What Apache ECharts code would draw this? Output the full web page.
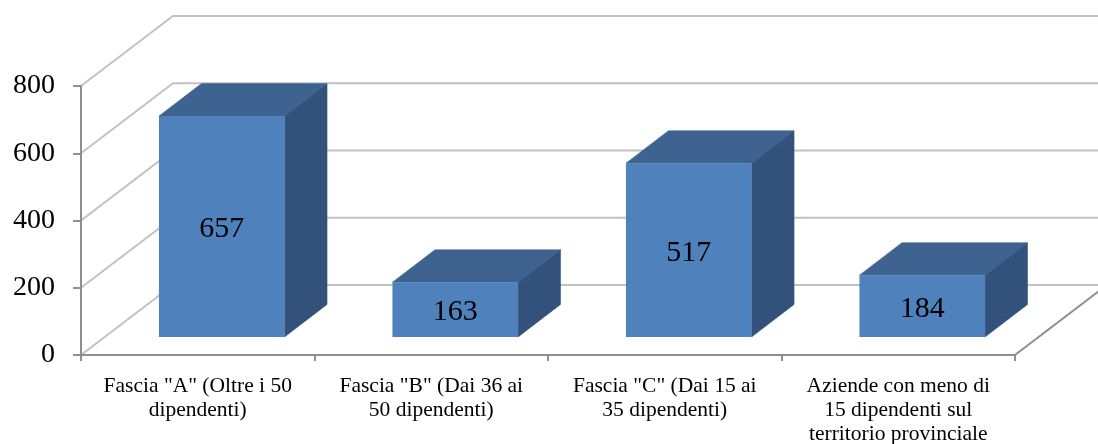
<!DOCTYPE html>
<html>
<head>
<meta charset="utf-8">
<style>html,body{margin:0;padding:0;background:#fff}#c{width:1098px;height:444px}</style>
<script src="https://cdn.jsdelivr.net/npm/echarts@6/dist/echarts.min.js"></script>
</head>
<body>
<div id="c"></div>
<script>
const categories = [
  'Fascia "A" (Oltre i 50\ndipendenti)',
  'Fascia "B" (Dai 36 ai\n50 dipendenti)',
  'Fascia "C" (Dai 15 ai\n35 dipendenti)',
  'Aziende con meno di\n15 dipendenti sul\nterritorio provinciale'
];
const values = [657, 163, 517, 184];
const gridTicks = [0, 200, 400, 600, 800];

const FONT = '"Liberation Serif", serif';
const WALL = [92, -70];       // depth of the chart box
const NEAR = [24, -18];       // front face of the bars inside the box
const FAR = [66.5, -50.5];    // back face of the bars inside the box
const C_GRID = '#c2c2c2', C_AXIS = '#8f8f8f';

function wallItem(params, api) {
  const cs = params.coordSys;
  const y = api.coord([0, api.value(0)])[1];
  const x0 = cs.x, x1 = cs.x + cs.width;
  const isZero = api.value(0) === 0;
  const children = [{
    type: 'polyline',
    shape: { points: [[x0, y], [x0 + WALL[0], y + WALL[1]], [x1 + WALL[0], y + WALL[1]]] },
    style: { stroke: C_GRID, lineWidth: 2, fill: null }
  }];
  if (isZero) {
    children.push({
      type: 'line',
      shape: { x1: x1, y1: y, x2: x1 + WALL[0], y2: y + WALL[1] },
      style: { stroke: C_AXIS, lineWidth: 2 }
    });
  }
  return { type: 'group', children };
}

function barItem(params, api) {
  const idx = api.value(0), val = api.value(1);
  const base = api.coord([idx, 0]), top = api.coord([idx, val]);
  const w = api.size([1, 0])[0] * 0.538;
  const l = base[0] - w / 2 + NEAR[0], r = l + w;
  const yb = base[1] + NEAR[1], yt = top[1] + NEAR[1];
  const dx = FAR[0] - NEAR[0], dy = FAR[1] - NEAR[1];
  return {
    type: 'group',
    children: [
      { type: 'polygon', shape: { points: [[l, yt], [r, yt], [r + dx, yt + dy], [l + dx, yt + dy]] },
        style: { fill: '#3e6391', stroke: '#3e6391', lineWidth: 0.5 } },
      { type: 'polygon', shape: { points: [[r, yb], [r, yt], [r + dx, yt + dy], [r + dx, yb + dy]] },
        style: { fill: '#32527b', stroke: '#32527b', lineWidth: 0.5 } },
      { type: 'rect', shape: { x: l, y: yt, width: w, height: yb - yt },
        style: { fill: '#4f81bd' } },
      { type: 'text', style: { text: String(val), x: (l + r) / 2, y: (yt + yb) / 2 + 3,
          align: 'center', verticalAlign: 'middle', font: '30px ' + FONT, fill: '#000' } }
    ]
  };
}

const chart = echarts.init(document.getElementById('c'), null, { renderer: 'canvas' });
chart.setOption({
  animation: false,
  backgroundColor: '#fff',
  grid: { left: 81, right: 83, top: 86, bottom: 89, outerBoundsMode: 'none' },
  xAxis: {
    type: 'category', data: categories, boundaryGap: true,
    axisLine: { show: true, lineStyle: { color: C_AXIS, width: 2 } },
    axisTick: { show: true, alignWithLabel: false, length: 6, lineStyle: { color: C_AXIS, width: 2 } },
    axisLabel: { interval: 0, fontFamily: FONT, fontSize: 21.5, color: '#000', lineHeight: 24, margin: 19 },
    z: 5
  },
  yAxis: {
    type: 'value', min: 0, max: 800, interval: 200,
    axisLine: { show: true, lineStyle: { color: C_AXIS, width: 2 } },
    axisTick: { show: true, length: 8, lineStyle: { color: C_AXIS, width: 2 } },
    axisLabel: { fontFamily: FONT, fontSize: 28, color: '#000', margin: 26, padding: [4, 0, 0, 0] },
    splitLine: { show: false },
    z: 5
  },
  series: [
    { type: 'custom', name: 'walls', coordinateSystem: 'cartesian2d', clip: false, silent: true, z: 1,
      encode: { y: 0 }, renderItem: wallItem, data: gridTicks.map(v => [v]) },
    { type: 'custom', name: 'values', coordinateSystem: 'cartesian2d', clip: false, silent: true, z: 10,
      encode: { x: 0, y: 1 }, renderItem: barItem, data: values.map((v, i) => [i, v]) }
  ]
});
</script>
</body>
</html>
